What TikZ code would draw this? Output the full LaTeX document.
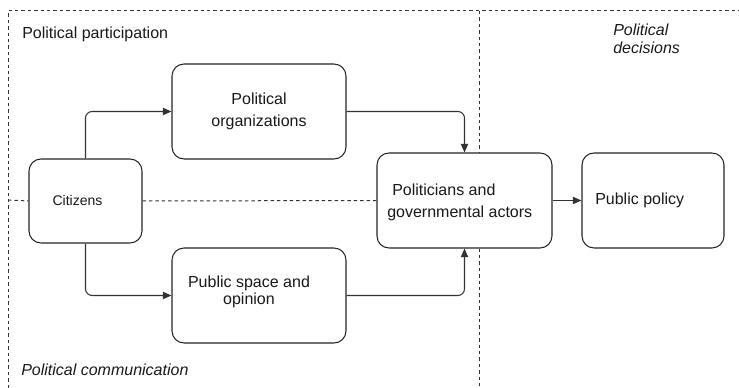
\documentclass[tikz,border=0pt]{standalone}
\usepackage{fontspec}
\setmainfont{Liberation Sans}
\usetikzlibrary{arrows.meta}

\begin{document}
\begin{tikzpicture}[x=0.75pt,y=-0.75pt]
        \tikzset{
        box/.style={draw=black!85, line width=0.8pt, rounded corners=9pt, fill=white},
        txt/.style={inner sep=0pt, text=black!90, font=\fontsize{12}{16}\selectfont},
        zone/.style={draw=black!80, line width=0.75pt, dash pattern=on 2.6pt off 2.2pt},
        arr/.style={draw=black!80, line width=0.8pt, rounded corners=5pt,
        -{Triangle[length=6.5pt,width=5.5pt]}},
        }
        \useasboundingbox (0,0) rectangle (739,388);

        % zones
        \draw[zone] (8,388) -- (8,11) -- (739,11);
        \node[txt, anchor=west] (part) at (22,34) {Political participation};
        \node[txt, anchor=north west, align=left, font=\fontsize{12}{13.5}\selectfont\itshape]
        (dec) at (613,24) {Political\\decisions};
        \node[txt, anchor=west, font=\fontsize{12}{16}\selectfont\itshape] (comm) at (21,370)
        {Political communication};

        % boxes
        \node[box, minimum width=130.5pt, minimum height=71.25pt, txt, align=center,
        draw=black!85] (porg) at (259,111.5) {Political\\organizations};
        \node[box, minimum width=84.75pt, minimum height=63pt] (cit) at (85.5,201) {};
        \node[box, minimum width=130.5pt, minimum height=71.25pt] (pub) at (259,295.5) {};
        \node[box, minimum width=131.25pt, minimum height=71.25pt] (pol) at (464.5,200.5) {};
        \node[box, minimum width=106.5pt, minimum height=71.25pt] (pp) at (653,200.5) {};

        \node[txt, font=\fontsize{10.5}{12}\selectfont] (citt) at (77.5,200) {Citizens};
        \node[txt, align=center, font=\fontsize{12}{12.75}\selectfont] (pubt) at (249,291.5)
        {Public space and\\opinion};
        \node[txt, anchor=west, align=left] (polt) at (387,202.5)
        {\hspace*{3.75pt}Politicians and\\governmental actors};
        \node[txt, anchor=west] (ppt) at (595,200) {Public policy};

        % dashed borders
        \coordinate (mtop) at (479,11);
        \coordinate (mbot) at (479,388);
        \coordinate (lft) at (8,200);
        \draw[zone] (mtop) -- (mtop |- pol.north);
        \draw[zone] (mtop |- pol.south) -- (mbot);
        \draw[zone] (lft) -- (cit.west);
        \draw[zone] (cit.east) -- (pol.west);

        % links
        \draw[arr] (cit.north) |- (porg.west);
        \draw[arr] (cit.south) |- (pub.west);
        \draw[arr] (porg.east) -| (pol.north);
        \draw[arr] (pub.east) -| (pol.south);
        \draw[arr] (pol) -- (pp);
\end{tikzpicture}
\end{document}
